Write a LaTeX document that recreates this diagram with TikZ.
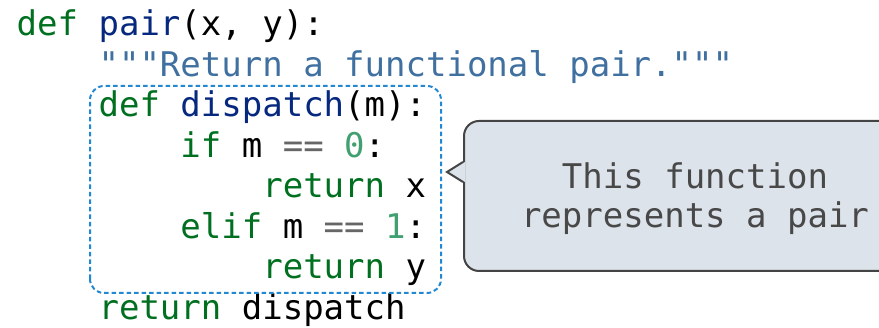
\documentclass[tikz,border=0pt]{standalone}
\usepackage{fontspec}
\newfontfamily\codefont{DejaVu Sans Mono}
\definecolor{kw}{HTML}{007020}
\definecolor{fn}{HTML}{06287E}
\definecolor{docstr}{HTML}{4070A0}
\definecolor{num}{HTML}{40A070}
\definecolor{op}{HTML}{666666}
\definecolor{boxblue}{HTML}{2388D2}
\definecolor{bubblefill}{HTML}{DCE3EA}
\definecolor{bubbleline}{HTML}{444444}
\definecolor{bubbletext}{HTML}{484848}
\newcommand{\kw}[1]{\textcolor{kw}{#1}}
\newcommand{\fn}[1]{\textcolor{fn}{#1}}
\newcommand{\op}[1]{\textcolor{op}{#1}}
\newcommand{\num}[1]{\textcolor{num}{#1}}
\begin{document}
\begin{tikzpicture}[x=1pt,y=1pt,
  code/.style={anchor=base west, inner sep=0pt,
    font=\codefont\fontsize{34}{40}\selectfont},
  note/.style={anchor=base, inner sep=0pt, text=bubbletext,
    font=\codefont\fontsize{34}{40}\selectfont},
  scopebox/.style={draw=boxblue, line width=2pt, dash pattern=on 4.5pt off 3pt,
    rounded corners=14pt},
  bubble/.style={draw=bubbleline, fill=bubblefill, line width=2pt,
    rounded corners=15pt, inner sep=0pt}]
\useasboundingbox (0,0) rectangle (879,328);

% source lines, one node per line; column width = 0.602 em
\def\xo{16.5}
\def\cw{20.47}
\node[code] (l1) at (\xo,292)          {\kw{def} \fn{pair}(x, y):};
\node[code] (l2) at (\xo+4*\cw,251.5)  {\textcolor{docstr}{"""Return a functional pair."""}};
\node[code] (l3) at (\xo+4*\cw,211)    {\kw{def} \fn{dispatch}(m):};
\node[code] (l4) at (\xo+8*\cw,170.5)  {\kw{if} m \op{==} \num{0}:};
\node[code] (l5) at (\xo+12*\cw,130)   {\kw{return} x};
\node[code] (l6) at (\xo+8*\cw,89.5)   {\kw{elif} m \op{==} \num{1}:};
\node[code] (l7) at (\xo+12*\cw,49)    {\kw{return} y};
\node[code] (l8) at (\xo+4*\cw,8.5)    {\kw{return} dispatch};

% dotted frame round the inner function
\draw[scopebox] (90,35) rectangle (441,242);

% speech bubble
\node[bubble, anchor=south west, minimum width=470pt, minimum height=150pt]
  (bubble) at (463,56) {};
\coordinate (tip) at (447,156);
\fill[bubblefill] (465,166) -- (tip) -- (465,146) -- cycle;
\draw[bubbleline, line width=2pt] (463,166) -- (tip) -- (463,146);

\node[note] (n1) at (695,139) {This function};
\node[note] (n2) at (695,100) {represents a pair};
\end{tikzpicture}
\end{document}
